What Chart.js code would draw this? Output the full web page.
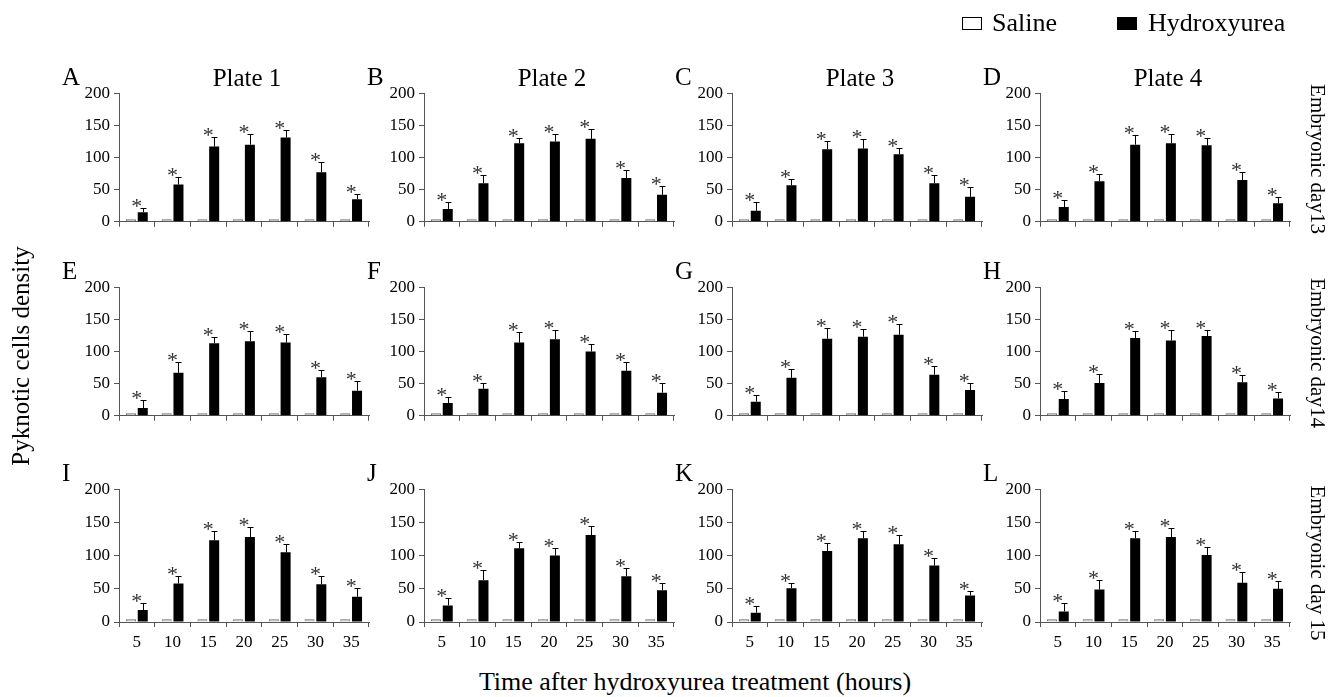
<!DOCTYPE html>
<html lang="en">
<head>
  <meta charset="UTF-8">
  <style>
    body {
      margin: 0;
      background: #fff;
      font-family: "Liberation Serif", "Times New Roman", serif;
    }
    #fig {
      position: relative;
      width: 1338px;
      height: 697px;
      overflow: hidden;
    }
    .lbl {
      position: absolute;
      white-space: nowrap;
      color: #000;
      line-height: 1;
    }
    canvas { position: absolute; }
    .box {
      position: absolute;
      width: 20px;
      height: 13px;
      box-sizing: border-box;
      border: 1px solid #000;
    }
  </style>
</head>
<body>
  <div id="fig"></div>

  <script src="https://cdn.jsdelivr.net/npm/chart.js"></script>
  <script>
    // x categories (hours after treatment) and y ticks
    const hours = ['5', '10', '15', '20', '25', '30', '35'];
    const yTicks = [0, 50, 100, 150, 200];

    // saline is near zero in every panel
    const salineMean = [4, 4, 4, 4, 4, 4, 4];

    // hydroxyurea means and error bars, one pair per panel
    const hydroA = [15, 58, 117, 120, 131, 77, 35];
    const errA   = [7, 11, 15, 17, 12, 16, 9];
    const hydroB = [20, 60, 122, 125, 129, 68, 42];
    const errB   = [11, 13, 8, 12, 15, 12, 13];
    const hydroC = [17, 57, 113, 114, 105, 60, 39];
    const errC   = [14, 9, 12, 15, 10, 13, 15];
    const hydroD = [23, 63, 120, 122, 119, 65, 29];
    const errD   = [11, 12, 15, 14, 12, 13, 9];
    const hydroE = [12, 67, 113, 116, 114, 60, 39];
    const errE   = [12, 16, 10, 16, 13, 12, 15];
    const hydroF = [20, 42, 114, 119, 100, 70, 36];
    const errF   = [9, 9, 16, 14, 11, 13, 15];
    const hydroG = [22, 59, 120, 123, 126, 64, 40];
    const errG   = [11, 14, 16, 12, 16, 13, 11];
    const hydroH = [26, 51, 121, 117, 124, 52, 27];
    const errH   = [13, 14, 11, 16, 9, 12, 10];
    const hydroI = [18, 58, 123, 128, 105, 57, 38];
    const errI   = [11, 11, 14, 15, 12, 13, 13];
    const hydroJ = [25, 63, 111, 100, 131, 69, 48];
    const errJ   = [11, 15, 9, 12, 14, 12, 10];
    const hydroK = [14, 51, 107, 126, 117, 85, 40];
    const errK   = [10, 8, 12, 11, 14, 11, 7];
    const hydroL = [16, 49, 126, 128, 101, 59, 50];
    const errL   = [12, 15, 11, 14, 12, 16, 12];

    const panelLetters = ['A', 'B', 'C', 'D', 'E', 'F', 'G', 'H', 'I', 'J', 'K', 'L'];
    const plateTitles = ['Plate 1', 'Plate 2', 'Plate 3', 'Plate 4'];
    const dayLabels = ['Embryonic day13', 'Embryonic day14', 'Embryonic day 15'];

    const panels = [
      [hydroA, errA], [hydroB, errB], [hydroC, errC], [hydroD, errD],
      [hydroE, errE], [hydroF, errF], [hydroG, errG], [hydroH, errH],
      [hydroI, errI], [hydroJ, errJ], [hydroK, errK], [hydroL, errL]
    ];

    // layout of the plot areas
    const colLeft = [119, 424, 732, 1040];
    const rowTop = [91, 285, 487];
    const plotW = 250, plotH = 135;
    const padL = 50, padT = 12, padR = 10;

    const fig = document.getElementById('fig');

    function addLabel(text, css) {
      const d = document.createElement('div');
      d.className = 'lbl';
      d.textContent = text;
      Object.assign(d.style, css);
      fig.appendChild(d);
      return d;
    }

    // draws error bars and asterisks above the hydroxyurea bars
    const errorBars = {
      id: 'errorBars',
      afterDatasetsDraw(chart) {
        const ctx = chart.ctx;
        const xs = chart.scales.x, ys = chart.scales.y;
        const ds = chart.data.datasets[1];
        const meta = chart.getDatasetMeta(1);
        ctx.save();
        ctx.strokeStyle = '#000';
        ctx.lineWidth = 1;
        meta.data.forEach((bar, i) => {
          const top = Math.round(ys.getPixelForValue(ds.data[i] + ds.errors[i])) + 0.5;
          const bx = Math.round(bar.x) + 0.5;
          ctx.beginPath();
          ctx.moveTo(bx, bar.y);
          ctx.lineTo(bx, top);
          ctx.moveTo(bx - 3, top);
          ctx.lineTo(bx + 3, top);
          ctx.stroke();
          ctx.fillStyle = '#333';
          ctx.font = '22px "Liberation Serif"';
          ctx.textAlign = 'center';
          ctx.textBaseline = 'alphabetic';
          ctx.fillText('*', xs.getPixelForValue(i), top + 4);
        });
        ctx.restore();
      }
    };

    panels.forEach((p, k) => {
      const row = Math.floor(k / 4), col = k % 4;
      const bottomRow = row === 2;
      const axisH = bottomRow ? 34 : 10;
      const left = colLeft[col], top = rowTop[row];

      const canvas = document.createElement('canvas');
      canvas.width = padL + plotW + padR;
      canvas.height = padT + plotH + axisH;
      canvas.style.left = (left - padL) + 'px';
      canvas.style.top = (top - padT) + 'px';
      fig.appendChild(canvas);

      new Chart(canvas.getContext('2d'), {
        type: 'bar',
        data: {
          labels: hours,
          datasets: [
            {
              label: 'Saline',
              data: salineMean,
              backgroundColor: '#b8b8b8',
              borderColor: '#6e6e6e',
              borderWidth: 1
            },
            {
              label: 'Hydroxyurea',
              data: p[0],
              errors: p[1],
              backgroundColor: '#000',
              borderWidth: 0
            }
          ]
        },
        options: {
          responsive: false,
          animation: false,
          devicePixelRatio: 1,
          categoryPercentage: 0.66,
          barPercentage: 0.85,
          layout: { padding: { top: padT, right: padR, left: 0, bottom: 0 } },
          plugins: {
            legend: { display: false },
            tooltip: { enabled: false }
          },
          scales: {
            x: {
              grid: {
                drawOnChartArea: false,
                drawTicks: true,
                tickLength: 5,
                color: '#555'
              },
              border: { color: '#555' },
              ticks: {
                display: bottomRow,
                color: '#000',
                padding: 5,
                maxRotation: 0,
                font: { family: '"Liberation Serif"', size: 17 }
              },
              afterFit: s => { s.height = axisH; }
            },
            y: {
              min: 0,
              max: 200,
              afterBuildTicks: s => { s.ticks = yTicks.map(v => ({ value: v })); },
              grid: {
                drawOnChartArea: false,
                drawTicks: true,
                tickLength: 5,
                color: '#555'
              },
              border: { color: '#555' },
              ticks: {
                color: '#000',
                padding: 4,
                font: { family: '"Liberation Serif"', size: 17 }
              },
              afterFit: s => { s.width = padL; }
            }
          }
        },
        plugins: [errorBars]
      });

      // panel letter
      addLabel(panelLetters[k], {
        left: (left - 57) + 'px',
        top: (top - 15) + 'px',
        fontSize: '25px',
        transform: 'translateY(-50%)'
      });
      // plate titles on the top row
      if (row === 0) {
        addLabel(plateTitles[col], {
          left: (left + plotW / 2 + 3) + 'px',
          top: (top - 14) + 'px',
          fontSize: '25px',
          transform: 'translate(-50%, -50%)'
        });
      }
    });

    // day labels on the right, reading top to bottom
    dayLabels.forEach((t, r) => {
      addLabel(t, {
        left: '1317px',
        top: (rowTop[r] + plotH / 2 + (r === 2 ? 8 : 0)) + 'px',
        fontSize: '21px',
        transform: 'translate(-50%, -50%) rotate(90deg)'
      });
    });

    // axis titles
    addLabel('Pyknotic cells density', {
      left: '20px',
      top: '356px',
      fontSize: '25px',
      transform: 'translate(-50%, -50%) rotate(-90deg)'
    });
    addLabel('Time after hydroxyurea treatment (hours)', {
      left: '695px',
      top: '682px',
      fontSize: '26px',
      transform: 'translate(-50%, -50%)'
    });

    // legend
    const sBox = document.createElement('div');
    sBox.className = 'box';
    Object.assign(sBox.style, { left: '962px', top: '17px', background: '#fff' });
    fig.appendChild(sBox);
    addLabel('Saline', { left: '992px', top: '23px', fontSize: '26px', transform: 'translateY(-50%)' });
    const hBox = document.createElement('div');
    hBox.className = 'box';
    Object.assign(hBox.style, { left: '1117px', top: '17px', background: '#000' });
    fig.appendChild(hBox);
    addLabel('Hydroxyurea', { left: '1148px', top: '23px', fontSize: '26px', transform: 'translateY(-50%)' });
  </script>
</body>
</html>
